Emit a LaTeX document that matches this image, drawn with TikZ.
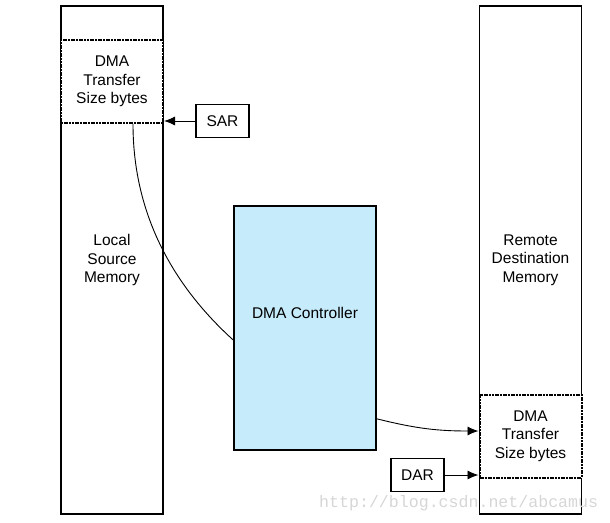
\documentclass[tikz,border=0pt]{standalone}
\usepackage{fontspec}
\setmainfont{Liberation Sans}
\setmonofont{Liberation Mono}
\usetikzlibrary{arrows.meta}

\tikzset{
  memory/.style={draw, line width=1.6pt, minimum width=102pt, minimum height=508pt, align=center, font=\fontsize{15.5}{18.7}\selectfont},
  xferblock/.style={draw, fill=white, dash pattern=on 2pt off 0.7pt, line width=2pt, minimum width=102pt, minimum height=83pt, align=center, font=\fontsize{15.5}{18.7}\selectfont},
  register/.style={draw, line width=1.6pt, minimum width=53pt, minimum height=33pt, font=\fontsize{15.5}{18.7}\selectfont},
  link/.style={line width=0.9pt, -{Latex[length=11pt,width=9pt]}}
}

\begin{document}
\begin{tikzpicture}[x=1pt, y=-1pt]  % y runs downwards, 1pt per pixel
    \useasboundingbox (0,0) rectangle (610,522);

    % Nodes
    \node[memory] (srcmem) at (112,260) {Local\\Source\\Memory};  % local memory column
    \node[xferblock] (srcblk) at (112,81.5) {DMA\\Transfer\\Size bytes};  % source block
    \node[register] (sar) at (222.5,121) {SAR};  % source address register

    \node[memory] (dstmem) at (530.5,260) {Remote\\Destination\\Memory};  % remote memory column
    \node[xferblock] (dstblk) at (530.5,436) {DMA\\Transfer\\Size bytes};  % destination block
    \node[register] (dar) at (417.5,475) {DAR};  % destination address register

    \node[draw, line width=1.6pt, fill={rgb,255:red,198;green,235;blue,251}, minimum width=142pt, minimum height=244pt,
          label={[yshift=15pt, font=\fontsize{15.5}{18.7}\selectfont]center:DMA Controller}] (dmac) at (305,328) {};  % controller

    % Connections
    \draw[link] (sar.west) -- (sar.west -| srcblk.east);  % SAR points into source block
    \draw[link] (dar.east) -- (dar.east -| dstblk.west);  % DAR points into destination block
    \draw[line width=0.9pt] ([xshift=21pt]srcblk.south) .. controls +(0,107) and +(-44,-40) .. ([yshift=-12pt]dmac.west);  % read path
    \draw[link] ([yshift=32pt]dmac.south east) .. controls +(40,10) and +(-40,0) .. ([yshift=5pt]dstblk.west);  % write path

    % Watermark
    \node[anchor=base west, inner sep=0pt, text={rgb,255:red,214;green,214;blue,214}, font=\ttfamily\fontsize{16.6}{18}\selectfont] (mark) at (319,507) {http://blog.csdn.net/abcamus};
\end{tikzpicture}
\end{document}
